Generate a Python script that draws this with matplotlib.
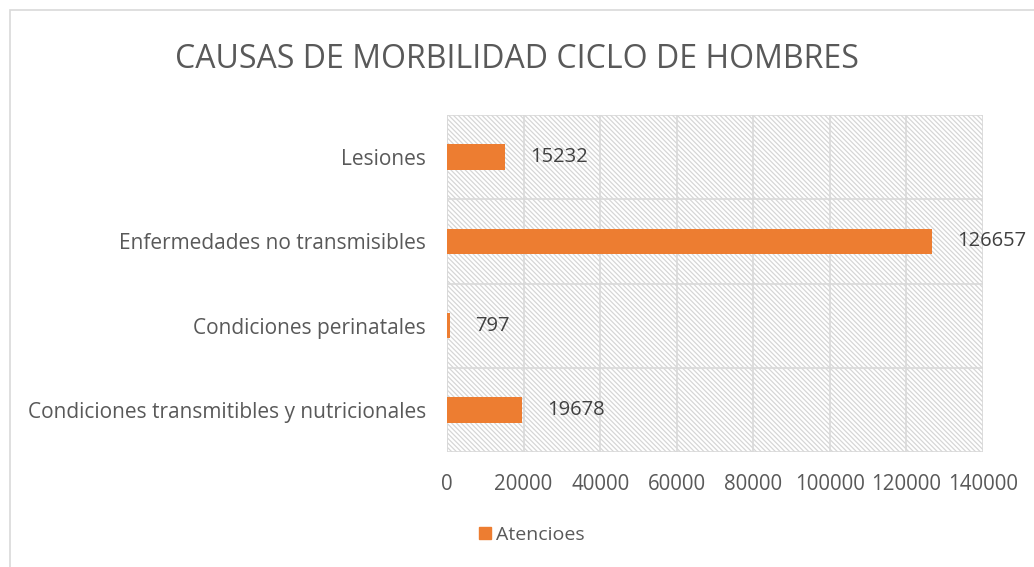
import numpy as np
import matplotlib
matplotlib.use("Agg")
import matplotlib.pyplot as plt
import matplotlib.patches as mpatches

categories = ["Condiciones transmitibles y nutricionales", "Condiciones perinatales",
              "Enfermedades no transmisibles", "Lesiones"]
atenciones = [19678, 797, 126657, 15232]
xticks = [0, 20000, 40000, 60000, 80000, 100000, 120000, 140000]
series_name = "Atencioes"
title = "CAUSAS DE MORBILIDAD CICLO DE HOMBRES"

plt.rcParams['font.family'] = ['Open Sans', 'DejaVu Sans']
plt.rcParams['hatch.color'] = '#d6d6d6'
plt.rcParams['hatch.linewidth'] = 0.9

W, H = 1034, 567
fig = plt.figure(figsize=(W / 100, H / 100), dpi=100)

# outer chart border
fig.patches.append(mpatches.Rectangle((10 / W, -0.1), 1.2, (H - 10) / H + 0.1,
                                      transform=fig.transFigure, fill=False,
                                      edgecolor='#d9d9d9', linewidth=1.2))

left, right, top, bottom = 447, 983, 115, 452
ax = fig.add_axes([left / W, 1 - bottom / H, (right - left) / W, (bottom - top) / H])

# hatched plot area
ax.add_patch(mpatches.Rectangle((0, 0), 1, 1, transform=ax.transAxes, fill=False,
                                hatch='\\' * 7, edgecolor='#d6d6d6', linewidth=0, zorder=0))

y = np.arange(len(categories))
ax.barh(y, atenciones, height=0.3, color='#ed7d31', zorder=3)

for yi, v in zip(y, atenciones):
    ax.text(v + 6500, yi, str(v), va='center', ha='left', fontsize=14.5, color='#404040', zorder=4)

ax.set_xlim(0, 140000)
ax.set_ylim(-0.5, len(categories) - 0.5)
ax.set_xticks(xticks)
ax.set_xticklabels([str(t) for t in xticks])
ax.set_yticks(y)
ax.set_yticklabels(categories)
ax.set_yticks(np.arange(len(categories) + 1) - 0.5, minor=True)
ax.tick_params(axis='both', which='both', length=0, labelsize=15, labelcolor='#595959')
ax.tick_params(axis='x', labelsize=14.8, pad=16)
ax.tick_params(axis='y', pad=15)
ax.grid(axis='x', color='#d9d9d9', linewidth=1.2, zorder=1)
ax.grid(axis='y', which='minor', color='#d9d9d9', linewidth=1.2, zorder=1)
for s in ax.spines.values():
    s.set_visible(False)
ax.axvline(0, color='#d9d9d9', linewidth=1.2, zorder=2)
ax.set_axisbelow(True)

fig.text(0.5, 1 - 60 / H, title, ha='center', va='center', fontsize=23, color='#595959')

handle = mpatches.Patch(color='#ed7d31', label=series_name)
fig.legend(handles=[handle], loc='center', bbox_to_anchor=(532 / W, 1 - 535 / H),
           frameon=False, fontsize=14, handlelength=0.6, handleheight=0.6,
           handletextpad=0.3, labelcolor='#595959')

fig.savefig("out.png", dpi=100)
